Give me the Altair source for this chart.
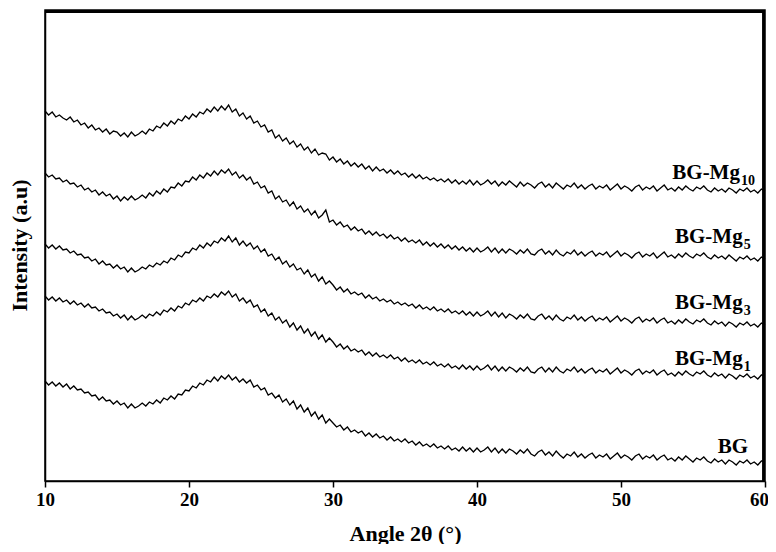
import altair as alt
import pandas as pd

# 2-theta grid: 10..60 deg, 0.25 deg step
angle_start = 10.0
angle_step = 0.25
n_points = 201
angles = [angle_start + angle_step * i for i in range(n_points)]

bg_mg10 = [
    370, 366, 369, 364, 366, 363, 361, 364, 359, 361, 356, 358, 353, 356, 351, 353,
    349, 352, 347, 350, 349, 345, 348, 344, 349, 345, 347, 350, 347, 352, 350, 355,
    353, 358, 355, 360, 357, 362, 360, 365, 362, 367, 364, 369, 367, 372, 369, 374,
    370, 375, 371, 376, 369, 372, 365, 368, 362, 365, 358, 360, 354, 356, 349, 351,
    343, 346, 340, 343, 337, 340, 334, 337, 331, 334, 328, 332, 326, 328, 327, 321,
    324, 319, 322, 317, 320, 315, 318, 314, 317, 312, 315, 310, 314, 310, 312, 308,
    311, 307, 310, 306, 308, 304, 307, 303, 306, 302, 304, 301, 303, 300, 302, 299,
    302, 298, 301, 297, 300, 297, 301, 296, 300, 296, 298, 301, 297, 300, 295, 299,
    296, 300, 297, 294, 299, 295, 298, 296, 293, 297, 299, 294, 297, 293, 298, 295,
    292, 296, 294, 298, 293, 296, 292, 295, 297, 292, 295, 293, 296, 291, 294, 297,
    292, 295, 293, 290, 294, 296, 291, 294, 292, 295, 290, 293, 296, 291, 293, 290,
    294, 291, 295, 292, 290, 294, 292, 295, 291, 289, 293, 290, 292, 289, 293, 291,
    288, 292, 290, 293, 289, 291, 288, 292, 290,
]

bg_mg5 = [
    308, 304, 306, 302, 303, 299, 301, 297, 298, 294, 296, 291, 293, 289, 291, 286,
    289, 285, 287, 282, 285, 280, 284, 281, 285, 281, 283, 286, 283, 288, 285, 290,
    287, 292, 289, 294, 293, 298, 295, 300, 299, 304, 301, 306, 303, 308, 305, 310,
    306, 311, 308, 312, 306, 309, 303, 306, 301, 304, 297, 299, 293, 295, 288, 290,
    282, 285, 279, 281, 275, 279, 272, 275, 269, 272, 266, 270, 263, 266, 271, 259,
    261, 256, 259, 254, 256, 251, 254, 250, 252, 247, 250, 246, 249, 245, 247, 243,
    246, 242, 244, 240, 243, 239, 241, 238, 241, 236, 239, 235, 238, 234, 237, 233,
    236, 232, 235, 231, 234, 230, 233, 229, 233, 229, 231, 234, 229, 233, 228, 232,
    228, 232, 230, 227, 231, 228, 232, 227, 226, 230, 232, 227, 230, 226, 231, 227,
    225, 229, 227, 231, 226, 229, 225, 228, 230, 225, 228, 226, 229, 224, 227, 230,
    225, 228, 226, 223, 227, 229, 224, 227, 225, 228, 223, 226, 229, 224, 226, 223,
    227, 224, 228, 225, 223, 227, 225, 228, 224, 222, 226, 223, 225, 222, 226, 223,
    220, 224, 222, 225, 221, 223, 220, 224, 222,
]

bg_mg3 = [
    237, 233, 236, 232, 235, 231, 232, 228, 230, 226, 227, 223, 224, 220, 222, 217,
    220, 216, 217, 213, 216, 212, 214, 209, 213, 209, 211, 214, 212, 216, 214, 218,
    216, 220, 218, 223, 221, 226, 224, 229, 228, 233, 231, 236, 233, 238, 235, 240,
    238, 243, 240, 245, 239, 243, 236, 240, 235, 238, 232, 235, 229, 232, 225, 227,
    221, 224, 217, 220, 214, 217, 211, 213, 207, 211, 204, 207, 200, 204, 197, 200,
    196, 191, 194, 189, 192, 187, 189, 186, 188, 183, 186, 182, 184, 180, 182, 179,
    181, 177, 179, 176, 178, 175, 177, 173, 176, 172, 174, 171, 174, 170, 172, 169,
    172, 168, 170, 167, 170, 166, 169, 165, 169, 165, 167, 170, 165, 169, 164, 168,
    163, 167, 165, 162, 166, 163, 167, 162, 161, 165, 167, 162, 165, 161, 166, 162,
    160, 164, 162, 166, 161, 164, 160, 163, 165, 160, 163, 161, 164, 159, 162, 165,
    160, 163, 161, 158, 162, 164, 159, 162, 160, 163, 158, 161, 163, 158, 160, 157,
    161, 158, 162, 159, 157, 161, 159, 162, 158, 156, 160, 157, 159, 155, 159, 157,
    154, 158, 156, 159, 155, 157, 154, 158, 156,
]

bg_mg1 = [
    185, 181, 184, 180, 183, 179, 181, 177, 180, 176, 178, 174, 177, 173, 174, 170,
    172, 168, 169, 165, 167, 163, 166, 161, 165, 161, 163, 166, 163, 167, 165, 169,
    166, 171, 169, 173, 170, 175, 173, 178, 176, 181, 179, 183, 180, 185, 183, 187,
    184, 189, 186, 190, 184, 187, 180, 183, 178, 181, 174, 176, 169, 172, 165, 168,
    161, 164, 158, 161, 154, 158, 151, 155, 148, 152, 145, 149, 142, 146, 139, 143,
    139, 134, 137, 132, 135, 130, 132, 129, 131, 126, 129, 125, 128, 124, 126, 123,
    126, 122, 124, 120, 123, 119, 121, 118, 121, 117, 119, 116, 119, 115, 117, 114,
    117, 113, 115, 112, 116, 112, 115, 111, 115, 111, 113, 116, 111, 115, 110, 114,
    110, 114, 112, 109, 113, 110, 114, 109, 108, 112, 114, 109, 113, 109, 114, 110,
    108, 112, 110, 114, 109, 112, 108, 111, 113, 108, 111, 109, 112, 107, 110, 113,
    108, 111, 109, 106, 110, 112, 107, 110, 108, 111, 106, 109, 111, 106, 108, 105,
    109, 106, 110, 107, 105, 109, 107, 110, 106, 104, 108, 105, 107, 103, 107, 105,
    102, 106, 104, 107, 103, 105, 102, 106, 106,
]

bg = [
    100, 96, 99, 95, 98, 94, 97, 92, 95, 91, 92, 88, 89, 85, 86, 81,
    84, 80, 81, 77, 80, 76, 78, 73, 77, 73, 75, 78, 75, 79, 77, 81,
    78, 83, 81, 85, 82, 87, 86, 91, 90, 95, 93, 98, 96, 101, 99, 104,
    100, 105, 102, 106, 101, 104, 99, 102, 98, 101, 94, 96, 91, 93, 86, 88,
    83, 86, 79, 82, 76, 80, 72, 76, 69, 73, 65, 69, 62, 66, 58, 62,
    58, 54, 56, 51, 54, 49, 51, 48, 50, 45, 48, 44, 47, 43, 45, 41,
    44, 40, 42, 39, 42, 38, 40, 36, 39, 35, 37, 34, 37, 33, 35, 32,
    35, 31, 33, 30, 34, 30, 33, 29, 33, 29, 31, 34, 29, 33, 28, 32,
    28, 32, 30, 27, 31, 28, 32, 27, 25, 29, 31, 26, 29, 25, 30, 26,
    23, 27, 25, 29, 24, 27, 23, 26, 28, 23, 26, 24, 27, 22, 25, 28,
    23, 26, 24, 21, 25, 27, 22, 25, 23, 26, 21, 24, 26, 21, 23, 20,
    24, 21, 25, 22, 19, 23, 21, 24, 20, 18, 22, 19, 21, 17, 21, 19,
    16, 20, 18, 21, 17, 19, 16, 20, 20,
]

series_names = ["BG-Mg10", "BG-Mg5", "BG-Mg3", "BG-Mg1", "BG"]
series_values = [bg_mg10, bg_mg5, bg_mg3, bg_mg1, bg]

# label texts and their anchor positions (data units)
label_main = ["BG-Mg", "BG-Mg", "BG-Mg", "BG-Mg", "BG"]
label_sub = ["10", "5", "3", "1", ""]
label_x = [58.26, 58.45, 58.45, 58.45, 58.82]
label_y = [302, 238, 172, 116, 28]

x_ticks = [10, 20, 30, 40, 50, 60]
x_min, x_max = 10, 60
y_max = 471

rows = []
for name, vals in zip(series_names, series_values):
    for a, v in zip(angles, vals):
        rows.append({"angle": a, "intensity": v, "series": name})
df = pd.DataFrame(rows)

lab = pd.DataFrame({"x": label_x, "y": label_y, "main": label_main, "sub": label_sub})
sub = lab[lab["sub"] != ""].reset_index(drop=True)
frame_df = pd.DataFrame({"k": [0]})

FONT = "Liberation Serif"

xenc = alt.X(
    "angle:Q",
    scale=alt.Scale(domain=[x_min, x_max], nice=False, zero=False),
    axis=alt.Axis(
        values=x_ticks,
        title="Angle 2θ (°)",
        grid=False,
        tickSize=6,
        tickWidth=1.5,
        tickColor="black",
        domainColor="black",
        domainWidth=1.5,
        labelFont=FONT,
        labelFontSize=19,
        labelFontWeight="bold",
        labelColor="black",
        labelPadding=3,
        labelFlush=False,
        labelOffset={"condition": {"test": "datum.value === 60", "value": -6}, "value": 0},
        titleFont=FONT,
        titleFontSize=22,
        titleFontWeight="bold",
        titleColor="black",
        titleY=59,
        titleBaseline="alphabetic",
    ),
)
yenc = alt.Y(
    "intensity:Q",
    scale=alt.Scale(domain=[0, y_max], nice=False, zero=False),
    axis=alt.Axis(
        title="Intensity (a.u)",
        grid=False,
        ticks=False,
        labels=False,
        domainColor="black",
        domainWidth=1.5,
        titleFont=FONT,
        titleFontSize=22,
        titleFontWeight="bold",
        titleColor="black",
        titleX=-19,
        titleY=235,
        titleAlign="center",
        titleBaseline="alphabetic",
        titleAngle=270,
    ),
)

lines = alt.Chart(df).mark_line(color="black", strokeWidth=1.3).encode(
    x=xenc, y=yenc, detail="series:N", order="angle:Q"
)

# frame lines (top and right), a little inside the plot edges
top_rule = alt.Chart(frame_df).mark_rule(color="#000000", strokeWidth=3).encode(
    y=alt.datum(y_max - 1.5)
)
right_rule = alt.Chart(frame_df).mark_rule(color="#000000", strokeWidth=3).encode(
    x=alt.datum(x_max - 0.1)
)

main_text = alt.Chart(lab).mark_text(
    font=FONT, fontSize=21, fontWeight="bold", color="black",
    align="right", baseline="alphabetic",
).encode(x="x:Q", y="y:Q", text="main:N")

sub_text = alt.Chart(sub).mark_text(
    font=FONT, fontSize=14, fontWeight="bold", color="black",
    align="left", baseline="alphabetic", dx=1, dy=6,
).encode(x="x:Q", y="y:Q", text="sub:N")

chart = (
    alt.layer(lines, top_rule, right_rule, main_text, sub_text)
    .properties(
        width=720,
        height=471,
        background="white",
        autosize=alt.AutoSizeParams(type="none"),
        padding={"left": 37, "top": 2, "right": 3, "bottom": 63},
    )
    .configure_view(stroke="black", strokeWidth=1.5)
)

chart.save("out.html", embed_options={"renderer": "svg", "actions": False})
